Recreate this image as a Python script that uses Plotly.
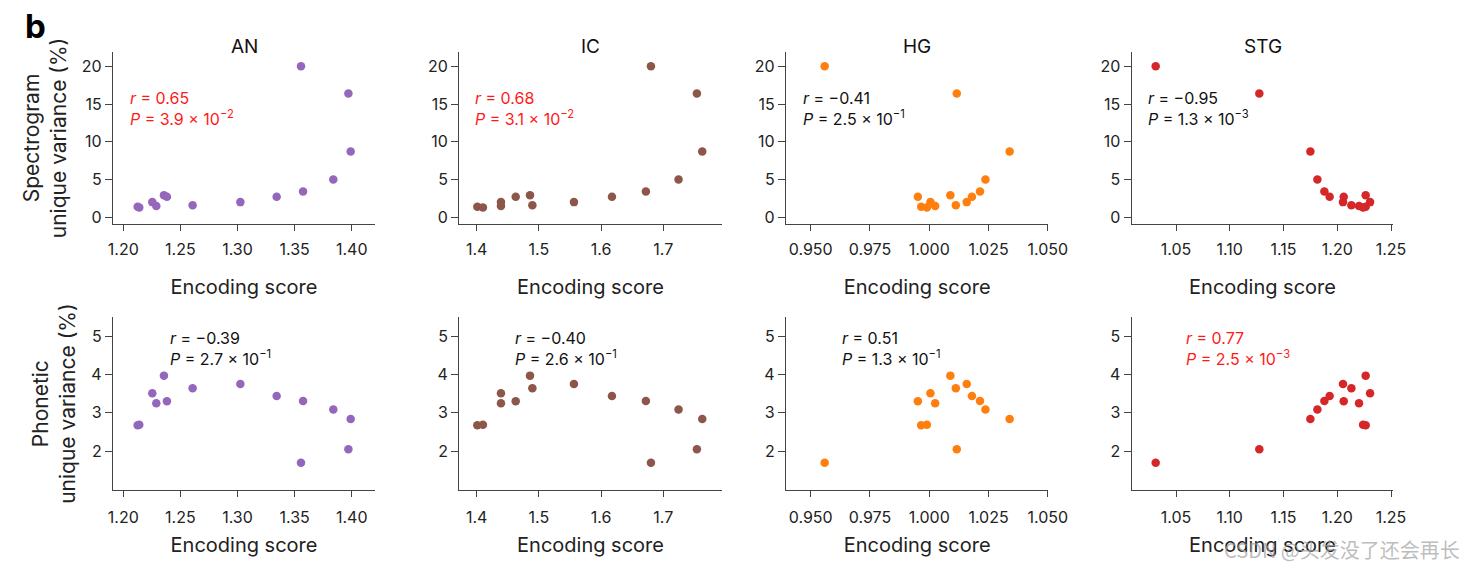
import plotly.graph_objects as go

# ---- data (14 points shared across areas) ----
spec_uv = [1.4, 1.3, 2.0, 1.5, 2.9, 2.7, 1.6, 2.0, 2.7, 20.0, 3.4, 5.0, 16.4, 8.7]
phon_uv = [2.68, 2.69, 3.51, 3.25, 3.97, 3.30, 3.64, 3.75, 3.44, 1.70, 3.31, 3.09, 2.05, 2.84]

x_AN = [1.2126, 1.2140, 1.2254, 1.2289, 1.2356, 1.2382, 1.2607, 1.3025, 1.3343, 1.3556, 1.3574, 1.3839, 1.3971, 1.3991]
x_IC = [1.4010, 1.4100, 1.4390, 1.4390, 1.4857, 1.4627, 1.4895, 1.5564, 1.6175, 1.6802, 1.6721, 1.7246, 1.7541, 1.7627]
x_HG = [0.9966, 0.9990, 1.0005, 1.0025, 1.0089, 0.9952, 1.0112, 1.0158, 1.0180, 0.9559, 1.0214, 1.0237, 1.0116, 1.0339]
x_STG = [1.2264, 1.2240, 1.2305, 1.2202, 1.2264, 1.2060, 1.2131, 1.2053, 1.1929, 1.0311, 1.1880, 1.1815, 1.1275, 1.1750]

areas = ["AN", "IC", "HG", "STG"]
area_x = [x_AN, x_IC, x_HG, x_STG]
colors = ["#9467bd", "#8c564b", "#ff7f0e", "#d62728"]

x_ranges = [[1.191, 1.4204], [1.372, 1.794], [0.9396, 1.0502], [1.0088, 1.2521]]
x_ticks = [[1.20, 1.25, 1.30, 1.35, 1.40], [1.4, 1.5, 1.6, 1.7],
           [0.950, 0.975, 1.000, 1.025, 1.050], [1.05, 1.10, 1.15, 1.20, 1.25]]
x_ticktext = [["1.20", "1.25", "1.30", "1.35", "1.40"], ["1.4", "1.5", "1.6", "1.7"],
              ["0.950", "0.975", "1.000", "1.025", "1.050"], ["1.05", "1.10", "1.15", "1.20", "1.25"]]

r_spec = ["0.65", "0.68", "\u22120.41", "\u22120.95"]
p_spec = [("3.9", "\u22122"), ("3.1", "\u22122"), ("2.5", "\u22121"), ("1.3", "\u22123")]
sig_spec = [True, True, False, False]
r_phon = ["\u22120.39", "\u22120.40", "0.51", "0.77"]
p_phon = [("2.7", "\u22121"), ("2.6", "\u22121"), ("1.3", "\u22121"), ("2.5", "\u22123")]
sig_phon = [False, False, False, True]

W, H = 1478, 568
FONT = "Inter"
AXC = "#444444"

x_dom_px = [(113, 375), (459.3, 721.7), (786, 1048.3), (1131.7, 1393.3)]
y_dom_px = [(52, 224), (317.3, 490)]

fig = go.Figure()
annotations = []

ann_pos_top = [127.7, 472.7, 801, 1145.7]
ann_pos_bot = [168.3, 513.3, 840, 1184]

for row in range(2):
    yvals = spec_uv if row == 0 else phon_uv
    for col in range(4):
        idx = row * 4 + col + 1
        xa = "x" if idx == 1 else f"x{idx}"
        ya = "y" if idx == 1 else f"y{idx}"
        fig.add_trace(go.Scatter(
            x=area_x[col], y=yvals, mode="markers",
            marker=dict(color=colors[col], size=8.5, line=dict(width=0)),
            xaxis=xa, yaxis=ya, showlegend=False, hoverinfo="skip"))
        x0, x1 = x_dom_px[col]
        y0, y1 = y_dom_px[row]
        xd = dict(domain=[x0 / W, x1 / W], anchor=ya, range=x_ranges[col], automargin=False,
                  tickvals=x_ticks[col], ticktext=x_ticktext[col],
                  showline=True, linecolor=AXC, linewidth=1.3,
                  ticks="outside", ticklen=6, tickwidth=1.3, tickcolor=AXC,
                  ticklabelstandoff=5 if row == 0 else 7,
                  showgrid=False, zeroline=False,
                  tickfont=dict(family=FONT, size=16, color="#222"),
                  title=dict(text="Encoding score", font=dict(family=FONT, size=20, color="#222"),
                             standoff=21 if row == 0 else 11))
        if row == 0:
            yd = dict(range=[-0.9, 21.9], tickvals=[0, 5, 10, 15, 20])
        else:
            yd = dict(range=[0.99, 5.49], tickvals=[2, 3, 4, 5])
        yd.update(domain=[1 - y1 / H, 1 - y0 / H], anchor=xa, automargin=False,
                  showline=True, linecolor=AXC, linewidth=1.3,
                  ticks="outside", ticklen=7, tickwidth=1.3, tickcolor=AXC,
                  showgrid=False, zeroline=False,
                  tickfont=dict(family=FONT, size=16, color="#222"))
        if col == 0:
            t = "Spectrogram<br>unique variance (%)" if row == 0 else "Phonetic<br>unique variance (%)"
            yd["title"] = dict(text=t, font=dict(family=FONT, size=21, color="#222"), standoff=9)
        fig.update_layout(**{("xaxis" if idx == 1 else f"xaxis{idx}"): xd,
                             ("yaxis" if idx == 1 else f"yaxis{idx}"): yd})

        # stats annotation
        if row == 0:
            rv, (pm, pe), sig, ax = r_spec[col], p_spec[col], sig_spec[col], ann_pos_top[col]
            ay = 86
        else:
            rv, (pm, pe), sig, ax = r_phon[col], p_phon[col], sig_phon[col], ann_pos_bot[col]
            ay = 326
        txt = f"<i>r</i> = {rv}<br><i>P</i> = {pm} \u00d7 10<sup>{pe}</sup>"
        annotations.append(dict(text=txt, xref="paper", yref="paper",
                                x=ax / W, y=1 - ay / H, xanchor="left", yanchor="top",
                                align="left", showarrow=False,
                                font=dict(family=FONT, size=16, color="#ff1a1a" if sig else "#111")))

for col in range(4):
    x0, x1 = x_dom_px[col]
    annotations.append(dict(text=areas[col], xref="paper", yref="paper",
                            x=(x0 + x1) / 2 / W, y=1 - 46 / H, xanchor="center", yanchor="middle",
                            showarrow=False, font=dict(family=FONT, size=19, color="#111")))

annotations.append(dict(text="<b>b</b>", xref="paper", yref="paper", x=23 / W, y=1 - 26 / H,
                        xanchor="left", yanchor="middle", showarrow=False,
                        font=dict(family=FONT, size=33, color="#000")))
annotations.append(dict(text="CSDN @头发没了还会再长", xref="paper", yref="paper",
                        x=1462 / W, y=1 - 549 / H, xanchor="right", yanchor="middle",
                        showarrow=False,
                        font=dict(family="Noto Sans CJK SC", size=20, color="rgba(160,160,160,0.7)")))

fig.update_layout(width=W, height=H, margin=dict(l=0, r=0, t=0, b=0),
                  paper_bgcolor="white", plot_bgcolor="white",
                  annotations=annotations, font=dict(family=FONT))
fig.write_html("out.html", config={"displayModeBar": False},
               post_script="document.body.style.margin='0';document.body.style.overflow='hidden';")
